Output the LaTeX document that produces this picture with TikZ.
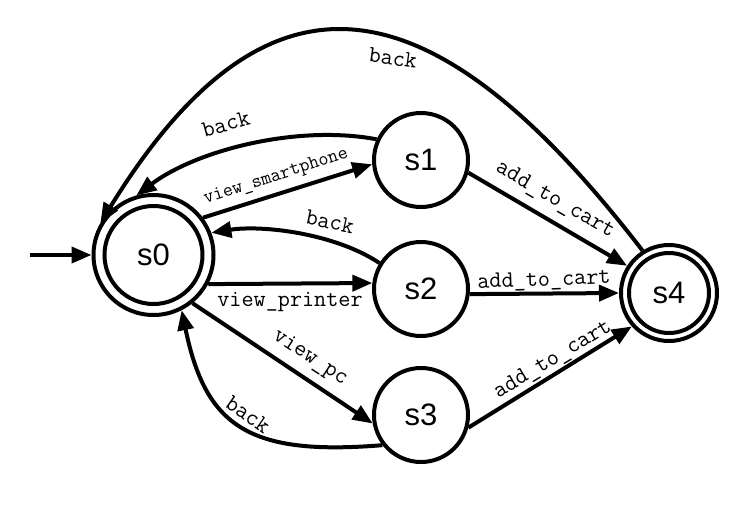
\documentclass[tikz,border=0pt]{standalone}
\usepackage{fontspec}
\setmainfont{Liberation Sans}
\usetikzlibrary{arrows.meta}
\begin{document}
\begin{tikzpicture}[x=1pt,y=-1pt,
  state/.style={circle,draw,line width=4pt,inner sep=0pt,minimum size=94pt,font=\fontsize{31}{31}\selectfont},
  edge/.style={line width=4pt,-{Triangle[length=20pt,width=16pt]}},
  ring/.style={line width=4pt},
  lbl/.style={font=\ttfamily\fontsize{23.5}{23.5}\selectfont,inner sep=0pt},
  slbl/.style={font=\ttfamily\fontsize{19.5}{19.5}\selectfont,inner sep=0pt}]
\useasboundingbox (0,0) rectangle (750,506);
% states
\node[state,minimum size=120pt] (s0) at (153.5,255) {s0};
\draw[ring] (s0.center) circle (49);
\node[state] (s1) at (421,160) {s1};
\node[state] (s2) at (421,289) {s2};
\node[state] (s3) at (421,415) {s3};
\node[state,minimum size=96pt] (s4) at (669,293) {s4};
\draw[ring] (s4.center) circle (40);
% initial
\coordinate (start) at (30,255);
\draw[edge] (start) -- (s0.west);
% straight edges
\draw[edge] (s0.37) -- (s1.185);
\draw[edge] (s0.-28) -- (s2.173);
\draw[edge] (s0.-51) -- (s3.190);
\draw[edge] (s1.-15) -- (s4.147);
\draw[edge] (s2.-6) -- (s4.180);
\draw[edge] (s3.-15) -- (s4.222);
% back curves
\draw[edge] (s1.155) .. controls +(-80,-15) and +(60,-45) .. (s0.106);
\draw[edge] (s2.148) .. controls +(-45,-30) and +(50,-8) .. (s0.21);
\draw[edge] (s3.218) .. controls +(-134,11) and +(24,116) .. (s0.-63);
\draw[edge] (s4.122) .. controls +(-214,-278) and +(166,-269) .. (s0.149);
% labels
\node[lbl,rotate=-8] (lb0) at (393,58) {back};
\node[lbl,rotate=15] (lb1) at (226,124) {back};
\node[slbl,rotate=18] (lvs) at (276,177) {view\_smartphone};
\node[lbl,rotate=-12] (lb2) at (330,222) {back};
\node[lbl] (lvp) at (290,302) {view\_printer};
\node[lbl,rotate=-33] (lvc) at (310,358) {view\_pc};
\node[lbl,rotate=-35] (lb3) at (248,415) {back};
\node[lbl,rotate=-30] (la1) at (555,200) {add\_to\_cart};
\node[lbl,rotate=2] (la2) at (544,281) {add\_to\_cart};
\node[lbl,rotate=31] (la3) at (553,360) {add\_to\_cart};
\end{tikzpicture}
\end{document}
